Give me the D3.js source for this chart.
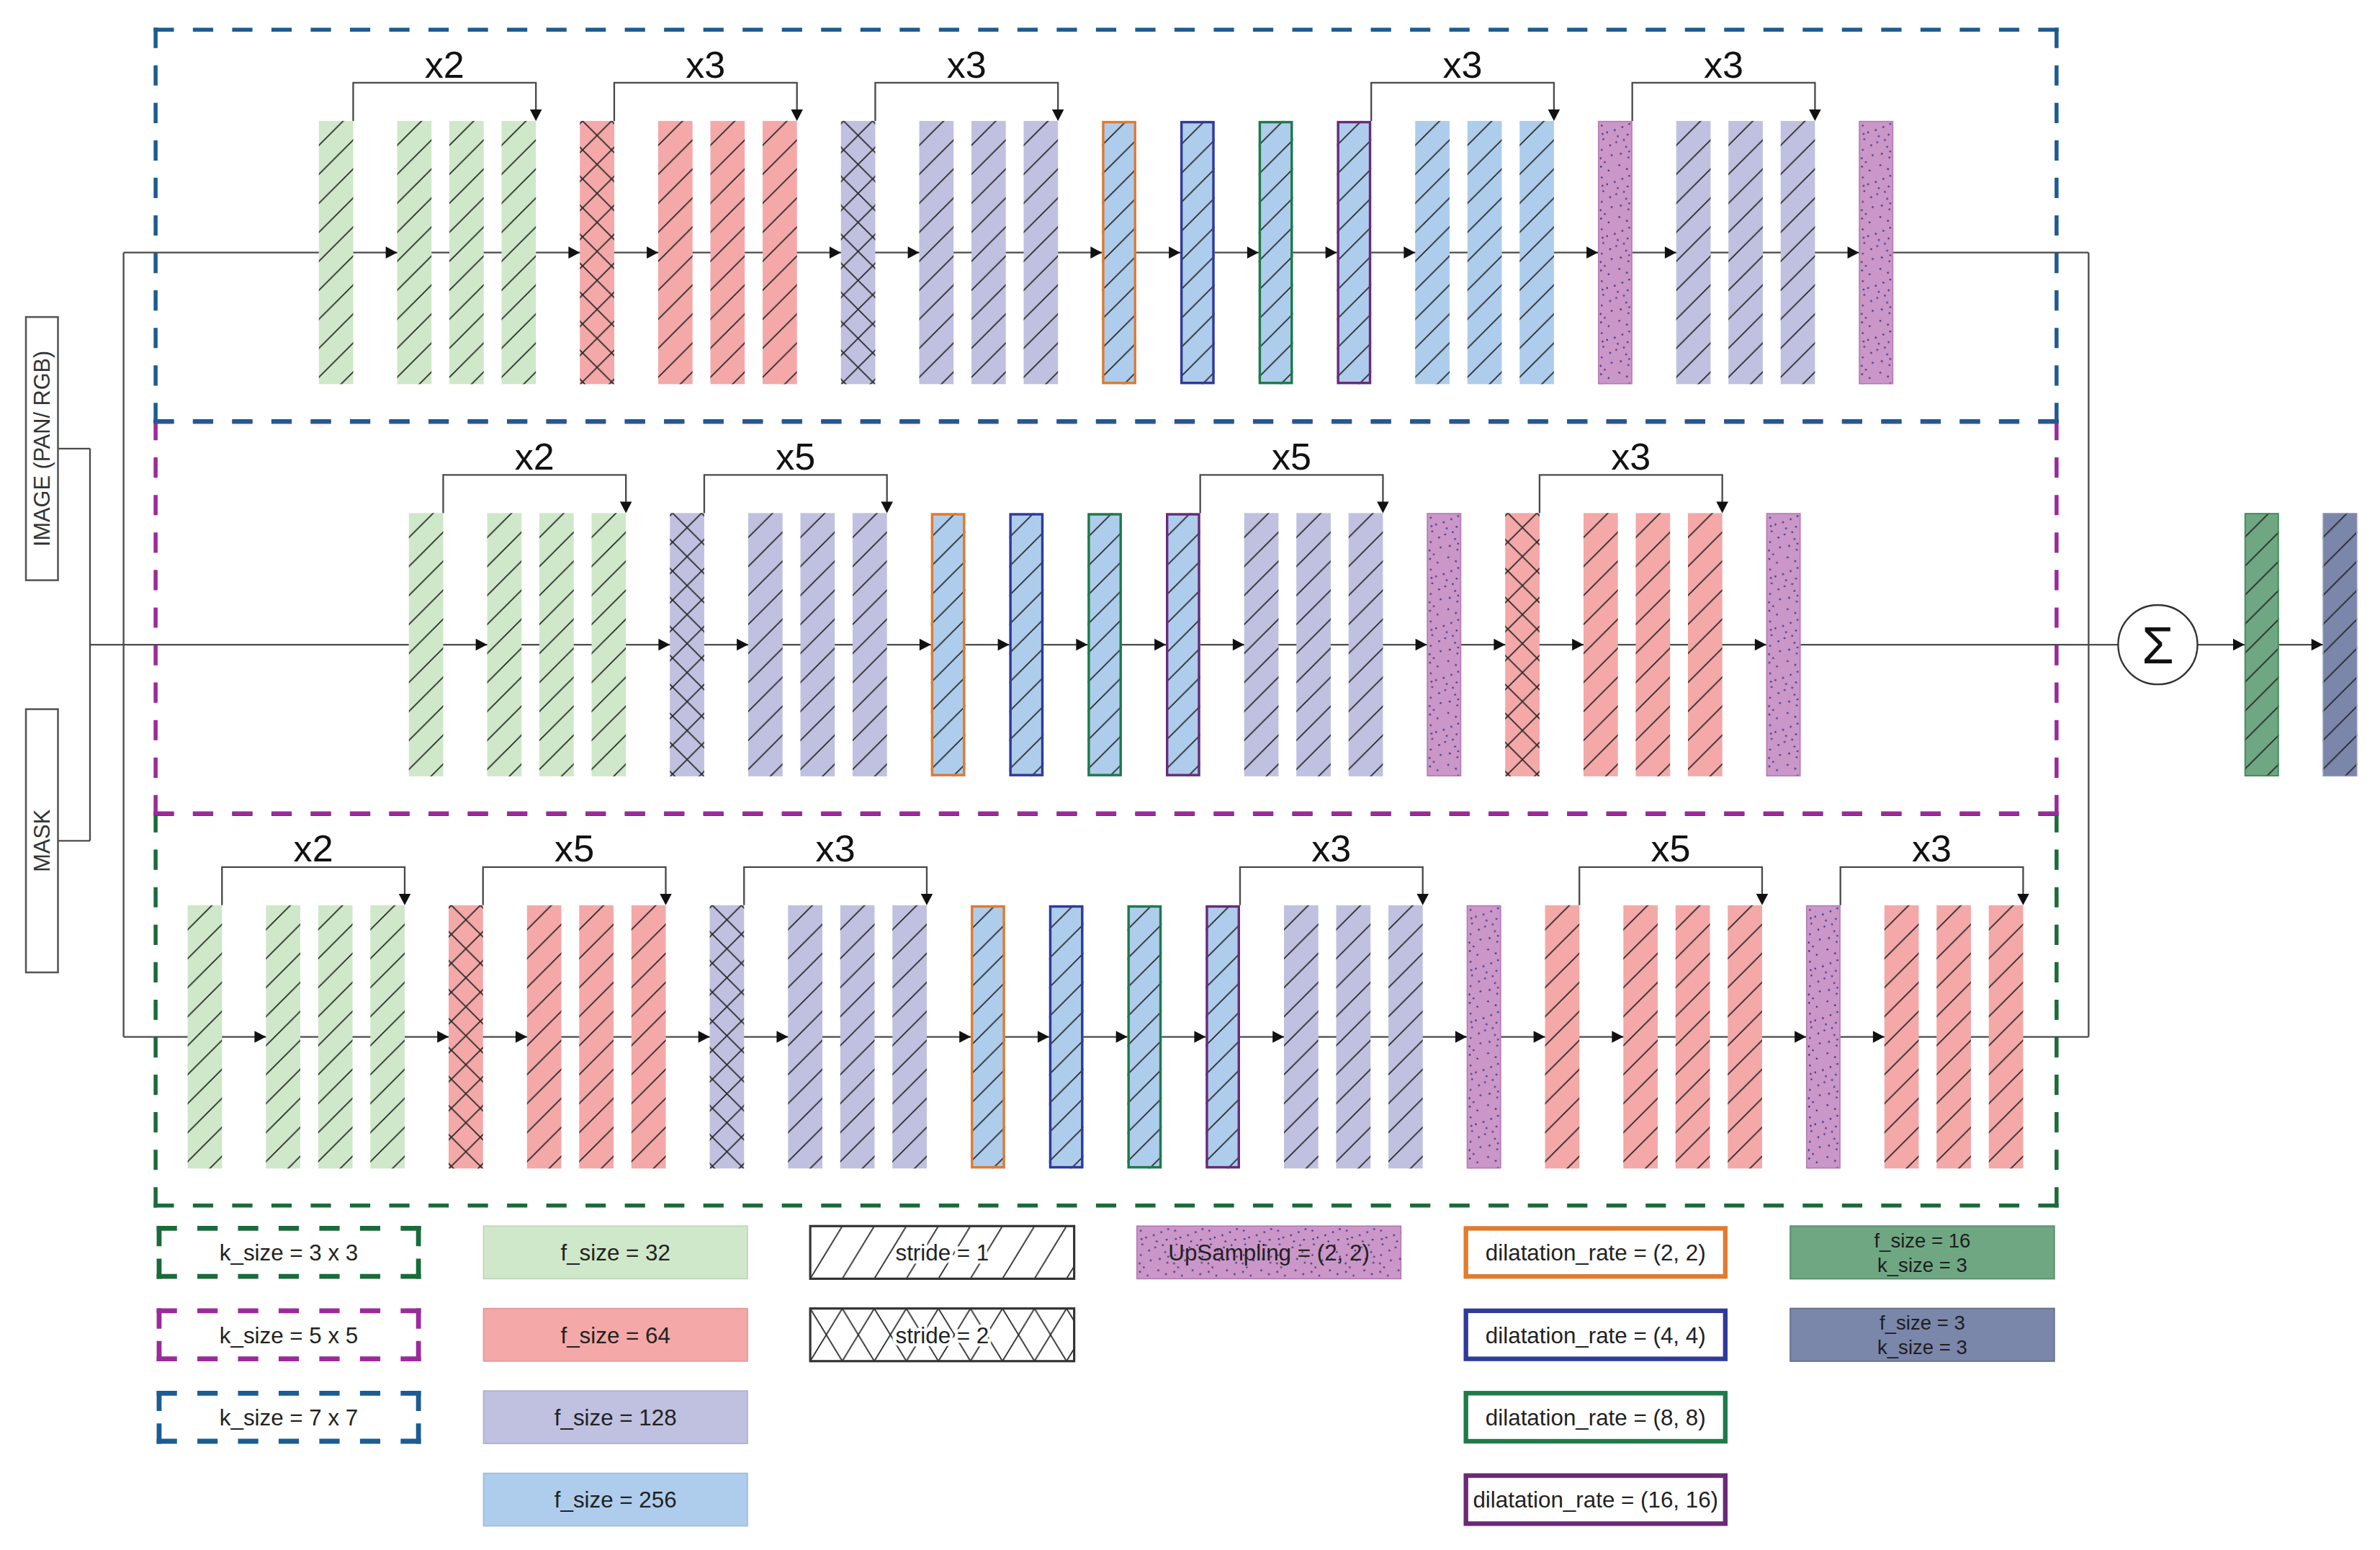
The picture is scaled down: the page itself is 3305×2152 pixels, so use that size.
<!DOCTYPE html>
<html>
<head>
<meta charset="utf-8">
<script src="https://cdn.jsdelivr.net/npm/d3@7"></script>
<style>
  html, body { margin: 0; padding: 0; background: #fff; }
  svg { display: block; }
</style>
</head>
<body>
<svg id="chart"></svg>
<script>
// layer sequences: ">" = arrow between layers, "-" = tied repeat
const topRow = 'g1 > g1 - g1 - g1 > r2 > r1 - r1 - r1 > p2 > p1 - p1 - p1 > bO > bN > bG > bP > b1 - b1 - b1 > up > p1 - p1 - p1 > up';
const midRow = 'g1 > g1 - g1 - g1 > p2 > p1 - p1 - p1 > bO > bN > bG > bP > p1 - p1 - p1 > up > r2 > r1 - r1 - r1 > up';
const botRow = 'g1 > g1 - g1 - g1 > r2 > r1 - r1 - r1 > p2 > p1 - p1 - p1 > bO > bN > bG > bP > p1 - p1 - p1 > up > r1 > r1 - r1 - r1 > up > r1 - r1 - r1';

// repeat brackets [fromLayer, toLayer, label]
const topRepeats = [[0, 3, 'x2'], [4, 7, 'x3'], [8, 11, 'x3'], [15, 18, 'x3'], [19, 22, 'x3']];
const midRepeats = [[0, 3, 'x2'], [4, 7, 'x5'], [11, 14, 'x5'], [16, 19, 'x3']];
const botRepeats = [[0, 3, 'x2'], [4, 7, 'x5'], [8, 11, 'x3'], [15, 18, 'x3'], [20, 23, 'x5'], [24, 27, 'x3']];

const inputLabels = ['IMAGE (PAN/ RGB)', 'MASK'];
const headLayers = ['h16', 'h3'];

const kernelLabels = ['k_size = 3 x 3', 'k_size = 5 x 5', 'k_size = 7 x 7'];
const filterLabels = ['f_size = 32', 'f_size = 64', 'f_size = 128', 'f_size = 256'];
const strideLabels = ['stride = 1', 'stride = 2'];
const upsamplingLabels = ['UpSampling = (2, 2)'];
const dilationLabels = ['dilatation_rate = (2, 2)', 'dilatation_rate = (4, 4)', 'dilatation_rate = (8, 8)', 'dilatation_rate = (16, 16)'];
const headLabels = [['f_size = 16', 'k_size = 3'], ['f_size = 3', 'k_size = 3']];

// ---- look ----
const W = 3305, H = 2152;
const VB_W = 1560, VB_H = VB_W * H / W;
const UNIT = 17.11;
const BAR_W = 22.5;
const BAR_H = 172.5;
const STEP = { '>': 3, '-': 2 };
const FONT = '"Liberation Sans", Arial, sans-serif';

const GREEN = '#cfe8c9', RED = '#f4a8a8', PURPLE = '#c0c0e0', BLUE = '#aecdec', PINK = '#cb97c8';
const kernelColors = ['#1a6b3a', '#9b2a9b', '#1c5c91'];
const filterColors = [GREEN, RED, PURPLE, BLUE];
const dilationColors = ['#e07b30', '#2f3a9a', '#1f7a4a', '#6b2a78'];
const headColors = ['#6fa783', '#7a86aa'];

const layerStyle = {
  g1: { fill: GREEN, hatch: 'hatch' },
  r1: { fill: RED, hatch: 'hatch' },
  r2: { fill: RED, hatch: 'cross' },
  p1: { fill: PURPLE, hatch: 'hatch' },
  p2: { fill: PURPLE, hatch: 'cross' },
  b1: { fill: BLUE, hatch: 'hatch' },
  bO: { fill: BLUE, hatch: 'hatch', border: dilationColors[0], bw: 1.6 },
  bN: { fill: BLUE, hatch: 'hatch', border: dilationColors[1], bw: 1.6 },
  bG: { fill: BLUE, hatch: 'hatch', border: dilationColors[2], bw: 1.6 },
  bP: { fill: BLUE, hatch: 'hatch', border: dilationColors[3], bw: 1.6 },
  up: { fill: PINK, hatch: 'dots', border: '#b877b6', bw: 0.7 },
  h16: { fill: headColors[0], hatch: 'hatch', border: '#3c8a55', bw: 0.8 },
  h3: { fill: headColors[1], hatch: 'hatch', border: '#8d97bb', bw: 0.6 },
};

const parseRow = (str) => {
  const tokens = str.split(' ');
  const layers = [];
  let slot = 0;
  tokens.forEach((t, i) => {
    if (STEP[t]) { slot += STEP[t]; return; }
    layers.push({ code: t, slot, arrow: tokens[i - 1] === '>' });
  });
  return layers;
};

const rows = [
  { seq: topRow, repeats: topRepeats, box: kernelColors[2], start: 209 },
  { seq: midRow, repeats: midRepeats, box: kernelColors[1], start: 268 },
  { seq: botRow, repeats: botRepeats, box: kernelColors[0], start: 123 },
].map((r) => ({ ...r, layers: parseRow(r.seq) }));

const yRow = d3.scalePoint().domain([0, 1, 2]).range([165.5, 679.5]);

const svg = d3.select('#chart')
  .attr('width', W).attr('height', H)
  .attr('viewBox', `0 0 ${VB_W} ${VB_H}`)
  .style('font-family', FONT);
svg.append('rect').attr('width', VB_W).attr('height', VB_H).attr('fill', '#fff');

// ---- patterns ----
const defs = svg.append('defs');
const HS = 19;
const hatch = defs.append('pattern').attr('id', 'hatch')
  .attr('patternUnits', 'userSpaceOnUse').attr('width', HS).attr('height', HS).attr('y', -3);
hatch.append('path')
  .attr('d', `M0,${HS}L${HS},0M-1,1L1,-1M${HS - 1},${HS + 1}L${HS + 1},${HS - 1}`)
  .attr('stroke', '#262626').attr('stroke-width', 0.8);

const cross = defs.append('pattern').attr('id', 'cross')
  .attr('patternUnits', 'userSpaceOnUse').attr('width', HS).attr('height', HS)
  .attr('x', BAR_W / 2 - HS / 2).attr('y', 0);
cross.append('path')
  .attr('d', `M0,${HS}L${HS},0M0,0L${HS},${HS}`)
  .attr('stroke', '#262626').attr('stroke-width', 0.8);

const dots = defs.append('pattern').attr('id', 'dots')
  .attr('patternUnits', 'userSpaceOnUse').attr('width', BAR_W).attr('height', 34);
[[2.5, 3], [6, 7.5], [3.5, 12], [16, 4], [19.5, 9], [12, 14], [2.5, 19], [18.5, 17], [9, 22.5],
 [20, 24], [4.5, 27], [14, 29], [11, 6], [19, 31.5], [7, 32.5], [1.8, 24.5], [17, 12.5], [20.5, 2],
 [3, 8.5], [20.5, 20], [8, 16], [15, 21.5], [2, 30], [13, 10]]
  .forEach(([cx, cy]) => dots.append('circle').attr('cx', cx).attr('cy', cy).attr('r', 0.6).attr('fill', '#34348a'));

const LEG_W = 173, LEG_H = 34.5;
const legHatch = defs.append('pattern').attr('id', 'legHatch')
  .attr('patternUnits', 'userSpaceOnUse').attr('width', 21).attr('height', LEG_H);
legHatch.append('path').attr('d', `M0,${LEG_H}L21,0`).attr('stroke', '#222').attr('stroke-width', 0.8);
const legCross = defs.append('pattern').attr('id', 'legCross')
  .attr('patternUnits', 'userSpaceOnUse').attr('width', 21).attr('height', LEG_H);
legCross.append('path').attr('d', `M0,${LEG_H}L21,0M0,0L21,${LEG_H}`).attr('stroke', '#222').attr('stroke-width', 0.8);

// ---- helpers ----
const dashedLine = (g, x1, y1, x2, y2, color, width, dash = 13.3, gap = 12.4) => {
  const len = Math.hypot(x2 - x1, y2 - y1);
  const n = Math.max(1, Math.round((len - dash) / (dash + gap)));
  const g2 = (len - dash * (n + 1)) / n;
  g.append('line')
    .attr('x1', x1).attr('y1', y1).attr('x2', x2).attr('y2', y2)
    .attr('stroke', color).attr('stroke-width', width)
    .attr('stroke-dasharray', `${dash} ${g2}`);
};

const dashedBox = (g, x, y, w, h, color, width) => {
  const e = width / 2;
  dashedLine(g, x - e, y, x + w + e, y, color, width);
  dashedLine(g, x - e, y + h, x + w + e, y + h, color, width);
  dashedLine(g, x, y - e, x, y + h + e, color, width);
  dashedLine(g, x + w, y - e, x + w, y + h + e, color, width);
};

const drawLayer = (parent, code, x, y) => {
  const s = layerStyle[code];
  const g = parent.append('g').attr('transform', `translate(${x},${y})`);
  g.append('rect').attr('width', BAR_W).attr('height', BAR_H).attr('fill', s.fill);
  g.append('rect').attr('width', BAR_W).attr('height', BAR_H).attr('fill', `url(#${s.hatch})`);
  if (s.border) {
    g.append('rect')
      .attr('x', s.bw / 2).attr('y', s.bw / 2)
      .attr('width', BAR_W - s.bw).attr('height', BAR_H - s.bw)
      .attr('fill', 'none').attr('stroke', s.border).attr('stroke-width', s.bw);
  }
};

const arrowRight = (g, x, y) => g.append('path')
  .attr('d', `M${x},${y}L${x - 7.5},${y - 3.9}L${x - 7.5},${y + 3.9}Z`).attr('fill', '#111');
const arrowDown = (g, x, y) => g.append('path')
  .attr('d', `M${x},${y}L${x - 3.9},${y - 7.5}L${x + 3.9},${y - 7.5}Z`).attr('fill', '#111');

const LINE = '#4a4a4a', LINE_W = 1.1;
const LEFT_X = 81, MERGE_X = 59, RIGHT_X = 1369;
const SIGMA_SLOT = 67, SIGMA_R = 26;

// ---- kernel boxes (bottom first so upper edges sit on top) ----
const boxLayer = svg.append('g');
[2, 1, 0].forEach((i) => {
  const cy = yRow(i);
  dashedBox(boxLayer, 102, cy - 146, 1246, 256.5, rows[i].box, 2.6);
});

const lines = svg.append('g').attr('fill', 'none').attr('stroke', LINE).attr('stroke-width', LINE_W);
const bars = svg.append('g');
const marks = svg.append('g');

// ---- inputs ----
const inputCy = [(yRow(0) + yRow(1)) / 2, (yRow(1) + yRow(2)) / 2];
inputLabels.forEach((label, i) => {
  const cy = inputCy[i];
  marks.append('rect')
    .attr('x', 17).attr('y', cy - BAR_H / 2).attr('width', 21).attr('height', BAR_H)
    .attr('fill', '#fff').attr('stroke', '#555').attr('stroke-width', 1.2);
  marks.append('text')
    .attr('transform', `translate(${27.5},${cy}) rotate(-90)`)
    .attr('text-anchor', 'middle').attr('dy', '0.36em')
    .attr('font-size', 14.5).attr('fill', '#333').text(label);
  lines.append('path').attr('d', `M38,${cy}H${MERGE_X}`);
});
lines.append('path').attr('d', `M${MERGE_X},${inputCy[0]}V${inputCy[1]}`);
lines.append('path').attr('d', `M${LEFT_X},${yRow(0)}V${yRow(2)}`);
lines.append('path').attr('d', `M${RIGHT_X},${yRow(0)}V${yRow(2)}`);

// ---- rows ----
let sigmaCx = 0;
rows.forEach((row, i) => {
  const cy = yRow(i);
  const top = cy - BAR_H / 2;
  const x = d3.scaleLinear().domain([0, 1]).range([row.start, row.start + UNIT]);
  const first = row.layers[0], last = row.layers[row.layers.length - 1];
  const startX = i === 1 ? MERGE_X : LEFT_X;
  let endX = RIGHT_X;
  if (i === 1) {
    sigmaCx = x(SIGMA_SLOT);
    endX = sigmaCx - SIGMA_R;
  }
  lines.append('path').attr('d', `M${startX},${cy}H${x(first.slot)}`);
  lines.append('path').attr('d', `M${x(first.slot)},${cy}H${x(last.slot) + BAR_W}`);
  lines.append('path').attr('d', `M${x(last.slot) + BAR_W},${cy}H${endX}`);

  row.layers.forEach((l, j) => {
    drawLayer(bars, l.code, x(l.slot), top);
    if (l.arrow && j > 0) arrowRight(marks, x(l.slot), cy);
  });

  row.repeats.forEach(([a, b, label]) => {
    const xa = x(row.layers[a].slot) + BAR_W;
    const xb = x(row.layers[b].slot) + BAR_W;
    const by = top - 25;
    lines.append('path').attr('d', `M${xa},${top}V${by}H${xb}V${top - 6}`);
    arrowDown(marks, xb, top);
    marks.append('text')
      .attr('x', (xa + xb) / 2).attr('y', by - 3.5)
      .attr('text-anchor', 'middle').attr('font-size', 24.6).attr('fill', '#111')
      .text(label);
  });
});

// ---- sum and head ----
const midY = yRow(1);
marks.append('circle').attr('cx', sigmaCx).attr('cy', midY).attr('r', SIGMA_R)
  .attr('fill', '#fff').attr('stroke', '#333').attr('stroke-width', 1.1);
marks.append('text').attr('x', sigmaCx).attr('y', midY).attr('dy', '0.36em')
  .attr('text-anchor', 'middle').attr('font-size', 34).attr('fill', '#111').text('Σ');

const headX = d3.scaleLinear().domain([0, 1])
  .range([sigmaCx + SIGMA_R + 3 * UNIT - BAR_W + 2, sigmaCx + SIGMA_R + 6 * UNIT - BAR_W + 2]);
let prevRight = sigmaCx + SIGMA_R;
headLayers.forEach((code, i) => {
  const hx = headX(i);
  lines.append('path').attr('d', `M${prevRight},${midY}H${hx}`);
  drawLayer(bars, code, hx, midY - BAR_H / 2);
  arrowRight(marks, hx, midY);
  prevRight = hx + BAR_W;
});

// ---- legend ----
const legendX = d3.scaleLinear().domain([0, 5]).range([102.8, 1173.5]);
const legendY = d3.scaleLinear().domain([0, 3]).range([803.5, 965.5]);
const legend = svg.append('g').attr('font-size', 14.8).attr('fill', '#222');

const legendText = (g, lx, ly, label, opts = {}) => {
  const t = g.append('text')
    .attr('x', lx + LEG_W / 2).attr('y', ly + LEG_H / 2).attr('dy', '0.36em')
    .attr('text-anchor', 'middle').attr('fill', '#222').text(label);
  if (opts.halo) t.attr('stroke', '#fff').attr('stroke-width', 4).attr('paint-order', 'stroke');
  return t;
};

kernelLabels.forEach((label, i) => {
  const lx = legendX(0), ly = legendY(i);
  dashedBox(legend, lx + 1.5, ly + 1.5, LEG_W - 3, LEG_H - 3, kernelColors[i], 3.2);
  legendText(legend, lx, ly, label);
});

filterLabels.forEach((label, i) => {
  const lx = legendX(1), ly = legendY(i);
  legend.append('rect').attr('x', lx).attr('y', ly).attr('width', LEG_W).attr('height', LEG_H)
    .attr('fill', filterColors[i]).attr('stroke', d3.color(filterColors[i]).darker(0.25)).attr('stroke-width', 0.8);
  legendText(legend, lx, ly, label);
});

const stridePatterns = ['legHatch', 'legCross'];
strideLabels.forEach((label, i) => {
  const lx = legendX(2), ly = legendY(i);
  const g = legend.append('g').attr('transform', `translate(${lx},${ly})`);
  g.append('rect').attr('width', LEG_W).attr('height', LEG_H).attr('fill', '#fff');
  g.append('rect').attr('width', LEG_W).attr('height', LEG_H).attr('fill', `url(#${stridePatterns[i]})`);
  g.append('rect').attr('width', LEG_W).attr('height', LEG_H)
    .attr('fill', 'none').attr('stroke', '#333').attr('stroke-width', 1.5);
  legendText(g, 0, 0, label, { halo: true });
});

upsamplingLabels.forEach((label, i) => {
  const lx = legendX(3), ly = legendY(i);
  const g = legend.append('g').attr('transform', `translate(${lx},${ly})`);
  g.append('rect').attr('width', LEG_W).attr('height', LEG_H).attr('fill', PINK)
    .attr('stroke', '#b877b6').attr('stroke-width', 0.8);
  g.append('rect').attr('width', LEG_W).attr('height', LEG_H).attr('fill', 'url(#dots)');
  legendText(g, 0, 0, label);
});

dilationLabels.forEach((label, i) => {
  const lx = legendX(4), ly = legendY(i);
  legend.append('rect').attr('x', lx + 1.5).attr('y', ly + 1.5)
    .attr('width', LEG_W - 3).attr('height', LEG_H - 3)
    .attr('fill', '#fff').attr('stroke', dilationColors[i]).attr('stroke-width', 3);
  legendText(legend, lx, ly, label);
});

headLabels.forEach((pair, i) => {
  const lx = legendX(5), ly = legendY(i);
  legend.append('rect').attr('x', lx).attr('y', ly).attr('width', LEG_W).attr('height', LEG_H)
    .attr('fill', headColors[i]).attr('stroke', d3.color(headColors[i]).darker(0.4)).attr('stroke-width', 1);
  pair.forEach((line, k) => {
    legend.append('text')
      .attr('x', lx + LEG_W / 2).attr('y', ly + LEG_H / 2 + (k === 0 ? -8 : 8)).attr('dy', '0.36em')
      .attr('text-anchor', 'middle').attr('font-size', 13).attr('fill', '#1e1e1e').text(line);
  });
});
</script>
</body>
</html>
